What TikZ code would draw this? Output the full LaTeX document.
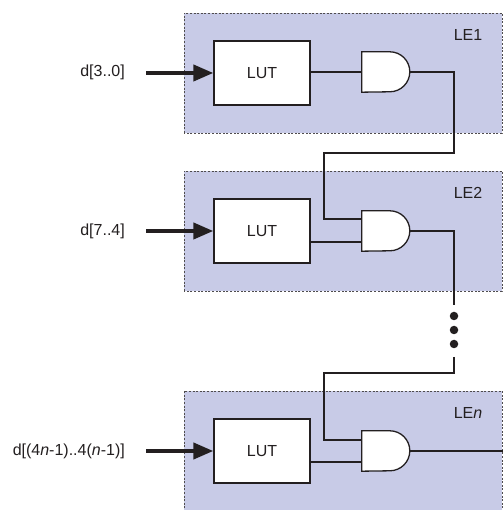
\documentclass[tikz,border=0pt]{standalone}
\usepackage{fontspec}
\setmainfont{Liberation Sans}
\usetikzlibrary{arrows.meta}
\definecolor{lefill}{RGB}{200,203,231}
\definecolor{ink}{RGB}{35,31,32}
\begin{document}
\begin{tikzpicture}[x=1pt,y=1pt,
  lab/.style={font=\fontsize{16pt}{19pt}\selectfont, text=ink, inner sep=0pt},
  leframe/.style={draw=ink!80, line width=0.9pt, dash pattern=on 2pt off 1.6pt},
  lut/.style={draw=ink, fill=white, line width=1.3pt, minimum width=96pt, minimum height=64pt, lab},
  gate/.style={minimum width=48pt, minimum height=40pt, inner sep=0pt},
  gateshape/.style={draw=ink, fill=white, line width=1.3pt},
  wire/.style={draw=ink, line width=1.3pt},
  bus/.style={draw=ink, line width=4pt, -{Triangle[length=20pt,width=16pt]}},
  dot/.style={circle, fill=ink, inner sep=0pt, minimum size=8.5pt}]
\useasboundingbox (0,0) rectangle (503,510);
% LE boxes
\fill[lefill] (184,377) rectangle (502,497);
\draw[leframe] (184,377) rectangle (502,497);
\fill[lefill] (184,219) rectangle (502,339);
\draw[leframe] (184,219) rectangle (502,339);
\fill[lefill] (184,-2) rectangle (502,119);
\draw[leframe] (184,-2) -- (184,119) -- (502,119) -- (502,-2);
\node[lab] (le1) at (468,475) {LE1};
\node[lab] (le2) at (468,317) {LE2};
\node[lab] (len) at (468,97) {LE\textit{n}};
% LUTs
\node[lut] (lut1) at (262,437) {LUT};
\node[lut] (lut2) at (262,279) {LUT};
\node[lut] (lut3) at (262,59) {LUT};
% gates
\foreach \n/\y in {1/438,2/279,3/59}{
  \node[gate] (and\n) at (386,\y) {};
  \draw[gateshape] (and\n.south west) -- (and\n.north west) -- ++(28,0)
     arc[start angle=90, end angle=-90, radius=20pt] -- cycle;
}
\coordinate (o1) at (410,438);
\coordinate (o2) at (410,279);
\coordinate (o3) at (410,59);
% inputs
\node[lab, anchor=east] (in1) at (125,438) {d[3..0]};
\node[lab, anchor=east] (in2) at (125,279) {d[7..4]};
\node[lab, anchor=east] (in3) at (125,59) {d[(4\textit{n}-1)..4(\textit{n}-1)]};
\coordinate (s1) at (146,437);
\coordinate (s2) at (146,279);
\coordinate (s3) at (146,59);
\draw[bus] (s1) -- (lut1.west);
\draw[bus] (s2) -- (lut2.west);
\draw[bus] (s3) -- (lut3.west);
% wires
\draw[wire] (lut1.east |- and1.west) -- (and1.west);
\draw[wire] (o1) -- (454,438) -- (454,357) -- (324,357) -- (324,291) -- (and2.west |- 0,291);
\draw[wire] (lut2.east |- 0,268) -- (and2.west |- 0,268);
\draw[wire] (o2) -- (454,279) -- (454,205);
\node[dot] (d1) at (454,194) {};
\node[dot] (d2) at (454,180) {};
\node[dot] (d3) at (454,166) {};
\draw[wire] (454,153) -- (454,137) -- (324,137) -- (324,70) -- (and3.west |- 0,70);
\draw[wire] (lut3.east |- 0,48) -- (and3.west |- 0,48);
\draw[wire] (o3) -- (503,59);
\end{tikzpicture}
\end{document}
